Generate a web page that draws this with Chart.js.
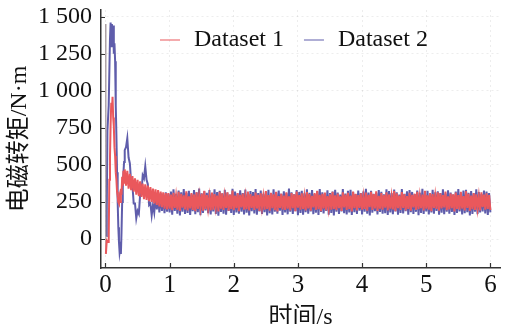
<!DOCTYPE html>
<html>
<head>
<meta charset="utf-8">
<script src="https://cdn.jsdelivr.net/npm/chart.js@4"></script>
<style>
  html, body { margin: 0; padding: 0; background: #fff; }
  canvas { display: block; }
</style>
</head>
<body>
<canvas id="torque" width="508" height="324"></canvas>
<script>
// start-up part, read point by point
const redEarlyT = [0.003, 0.006, 0.02, 0.04, 0.05, 0.06, 0.07, 0.08, 0.09, 0.10, 0.11, 0.12, 0.13, 0.14, 0.15,
  0.16, 0.17, 0.18, 0.19, 0.20, 0.21, 0.22, 0.23, 0.24, 0.25, 0.26, 0.27, 0.28, 0.29];
const redEarlyV = [1450, -100, -10, -20, 0, 400, 550, 780, 920, 860, 960, 820, 760, 620, 560,
  450, 400, 320, 290, 250, 240, 280, 250, 340, 300, 420, 360, 460, 380];

const blueEarlyT = [0.012, 0.02, 0.03, 0.05, 0.07, 0.08, 0.09, 0.10, 0.11, 0.12, 0.13, 0.14, 0.15,
  0.16, 0.17, 0.18, 0.19, 0.20, 0.21, 0.22, 0.23, 0.24, 0.25, 0.26, 0.27, 0.28, 0.29];
const blueEarlyV = [20, 190, 730, 900, 1350, 1460, 1300, 1450, 1380, 1440, 1250, 1320, 1200,
  900, 700, 450, 250, 80, -20, -90, -60, -100, 50, 250, 350, 450, 520];

// sampled part, one value every bandStep seconds from bandStart to 6 s
const bandStart = 0.30;
const bandStep = 0.02;

const redBand = [
  // 0.30 - 0.98
  470, 360, 460, 340, 440, 330, 425, 320, 410, 300, 400, 290, 390, 285, 375, 270, 370, 265,
  360, 255, 350, 250, 340, 240, 335, 230, 330, 220, 320, 215, 315, 205, 310, 200, 310,
  // 1.00 - 6.00
  205, 300, 195, 312, 210, 290, 198, 318, 190, 305,
  212, 295, 200, 322, 193, 288, 207, 310, 196, 301,
  188, 315, 203, 292, 214, 306, 192, 325, 201, 297,
  209, 286, 194, 313, 199, 303, 216, 294, 187, 319,
  205, 308, 197, 289, 211, 316, 191, 300, 204, 327,
  195, 293, 208, 311, 189, 298, 213, 307, 199, 285,
  202, 320, 193, 304, 210, 291, 196, 314, 206, 299,
  190, 309, 215, 287, 198, 323, 203, 296, 192, 312,
  208, 302, 195, 318, 186, 290, 211, 306, 200, 294,
  197, 315, 205, 288, 193, 310, 209, 301, 189, 321,
  212, 297, 199, 308, 204, 285, 194, 317, 207, 303,
  191, 292, 214, 311, 196, 326, 202, 298, 188, 305,
  206, 314, 193, 290, 210, 302, 198, 319, 203, 295,
  195, 307, 209, 288, 190, 316, 213, 300, 197, 312,
  204, 293, 187, 320, 208, 305, 194, 297, 211, 309,
  199, 286, 203, 313, 192, 299, 215, 318, 196, 304,
  207, 322, 190, 291, 205, 310, 198, 296, 212, 315,
  193, 301, 206, 287, 200, 324, 189, 308, 209, 294,
  197, 317, 211, 303, 194, 290, 204, 312, 191, 299,
  214, 306, 196, 319, 202, 289, 208, 300, 193, 325,
  205, 295, 199, 311, 188, 304, 210, 292, 203, 316,
  192, 309, 207, 297, 213, 321, 195, 288, 200, 307,
  209, 302, 186, 314, 204, 296, 198, 318, 206, 290,
  194, 323, 211, 305, 190, 293, 202, 310, 197, 301,
  208, 287, 193, 316, 215, 300, 199, 308, 204, 296,
  196
];

const blueBand = [
  // 0.30 - 0.98
  600, 620, 680, 550, 510, 380, 360, 240, 240, 140, 190, 170, 300, 310, 430, 410, 490, 400,
  370, 230, 240, 160, 230, 180, 280, 200, 300, 180, 310, 190, 300, 175, 315, 185, 305,
  // 1.00 - 6.00
  180, 320, 165, 335, 190, 305, 172, 328, 160, 315,
  185, 338, 170, 310, 176, 325, 163, 302, 188, 331,
  168, 316, 182, 340, 161, 308, 177, 322, 193, 312,
  174, 330, 166, 304, 186, 336, 170, 318, 158, 326,
  183, 309, 172, 333, 165, 314, 190, 300, 176, 339,
  162, 321, 180, 307, 171, 329, 185, 311, 167, 334,
  178, 303, 160, 324, 189, 317, 173, 337, 164, 310,
  187, 327, 169, 306, 181, 319, 159, 332, 175, 301,
  166, 336, 184, 313, 172, 328, 191, 305, 163, 323,
  179, 309, 167, 340, 185, 315, 170, 302, 188, 330,
  161, 318, 176, 326, 164, 308, 182, 335, 171, 312,
  186, 331, 168, 304, 178, 322, 162, 338, 183, 316,
  173, 306, 190, 329, 165, 311, 177, 320, 160, 333,
  184, 314, 170, 301, 187, 337, 174, 307, 166, 325,
  179, 332, 163, 317, 181, 303, 169, 328, 192, 310,
  167, 321, 185, 339, 172, 313, 160, 326, 178, 305,
  188, 308, 166, 330, 183, 319, 171, 302, 175, 336,
  162, 324, 180, 311, 168, 334, 186, 315, 164, 300,
  177, 337, 173, 306, 189, 323, 165, 331, 182, 318,
  170, 304, 184, 327, 161, 312, 176, 339, 169, 309,
  186, 325, 167, 303, 180, 333, 172, 316, 190, 322,
  164, 310, 178, 336, 168, 307, 185, 329, 171, 314,
  183, 301, 163, 320, 176, 338, 187, 305, 166, 327,
  174, 332, 181, 312, 159, 324, 170, 309, 184, 335,
  168, 317, 179, 303, 186, 328, 173, 321, 162, 311,
  180
];

const seriesNames = ['Dataset 1', 'Dataset 2'];
const xTickValues = [0, 1, 2, 3, 4, 5, 6];
const yTickValues = [0, 250, 500, 750, 1000, 1250, 1500];
const xTitle = '时间/s';
const yTitle = '电磁转矩/N·m';

const red = 'rgb(234, 88, 92)';
const blue = 'rgba(86, 84, 166, 0.95)';
const spikeGrey = 'rgba(150, 138, 142, 0.85)';
const serif = '"Liberation Serif", "Noto Sans CJK SC", serif';

const toPoints = (ts, vs) => ts.map((t, i) => ({ x: t, y: vs[i] }));
const bandPoints = vs => vs.map((v, i) => ({ x: +(bandStart + i * bandStep).toFixed(2), y: v }));

const redData = toPoints(redEarlyT, redEarlyV).concat(bandPoints(redBand));
const blueData = toPoints(blueEarlyT, blueEarlyV).concat(bandPoints(blueBand));

const fixTicks = list => scale => { scale.ticks = list.map(v => ({ value: v })); };

// small inward tick marks on both axes
const innerTicks = {
  id: 'innerTicks',
  afterDatasetsDraw(chart) {
    const { ctx, chartArea, scales: { x, y } } = chart;
    ctx.save();
    ctx.strokeStyle = '#333';
    ctx.lineWidth = 1.2;
    ctx.beginPath();
    x.ticks.forEach(t => {
      const px = Math.round(x.getPixelForValue(t.value)) + 0.5;
      if (px <= chartArea.left + 2) return;
      ctx.moveTo(px, chartArea.bottom);
      ctx.lineTo(px, chartArea.bottom - 5);
    });
    y.ticks.forEach(t => {
      const py = Math.round(y.getPixelForValue(t.value)) + 0.5;
      ctx.moveTo(chartArea.left, py);
      ctx.lineTo(chartArea.left + 4, py);
    });
    ctx.stroke();
    ctx.restore();
  }
};

// legend drawn inside the plot, near the top
const innerLegend = {
  id: 'innerLegend',
  afterDraw(chart) {
    const { ctx, chartArea } = chart;
    ctx.save();
    ctx.font = '24px ' + serif;
    ctx.textBaseline = 'middle';
    let cx = 160;
    const cy = chartArea.top + 30;
    chart.data.datasets.forEach(ds => {
      ctx.globalAlpha = 0.5;
      ctx.strokeStyle = ds.borderColor;
      ctx.lineWidth = 2;
      ctx.beginPath();
      ctx.moveTo(cx, cy);
      ctx.lineTo(cx + 20, cy);
      ctx.stroke();
      ctx.globalAlpha = 1;
      ctx.fillStyle = '#111';
      ctx.fillText(ds.label, cx + 34, cy);
      cx += 34 + ctx.measureText(ds.label).width + 20;
    });
    ctx.restore();
  }
};

new Chart(document.getElementById('torque').getContext('2d'), {
  type: 'line',
  data: {
    datasets: [
      {
        label: seriesNames[0], data: redData, borderColor: red, borderWidth: 2,
        segment: { borderColor: c => c.p0DataIndex === 0 ? spikeGrey : undefined, borderWidth: c => c.p0DataIndex === 0 ? 1.2 : undefined }
      },
      { label: seriesNames[1], data: blueData, borderColor: blue, borderWidth: 2 }
    ]
  },
  options: {
    responsive: false,
    animation: false,
    parsing: false,
    normalized: true,
    elements: {
      point: { radius: 0 },
      line: { tension: 0, fill: false }
    },
    layout: {
      padding: { top: 10, right: 8, left: 6, bottom: 0 }
    },
    scales: {
      x: {
        type: 'linear',
        min: -0.07,
        max: 6.15,
        afterBuildTicks: fixTicks(xTickValues),
        afterFit: s => { s.height = 56; s.paddingLeft = 0; s.paddingRight = 0; },
        grid: { color: 'rgba(0, 0, 0, 0.07)', drawTicks: false },
        border: { color: '#333', width: 1.5, dash: [2, 3] },
        ticks: {
          padding: 2,
          color: '#111',
          font: { family: serif, size: 25 }
        },
        title: {
          display: true,
          text: xTitle,
          color: '#111',
          padding: { top: 0, bottom: -6 },
          font: { family: serif, size: 24, lineHeight: 1 }
        }
      },
      y: {
        min: -195,
        max: 1545,
        afterBuildTicks: fixTicks(yTickValues),
        afterFit: s => { s.width = 95; s.paddingTop = 0; s.paddingBottom = 0; },
        grid: { color: 'rgba(0, 0, 0, 0.07)', drawTicks: false },
        border: { color: '#333', width: 1.5, dash: [2, 3] },
        ticks: {
          padding: 9,
          color: '#111',
          font: { family: serif, size: 24 },
          callback: v => v >= 1000 ? String(v).replace(/(\d)(\d{3})$/, '$1 $2') : v
        },
        title: {
          display: true,
          text: yTitle,
          color: '#111',
          padding: { top: 2, bottom: 0 },
          font: { family: serif, size: 24, lineHeight: 1 }
        }
      }
    },
    plugins: {
      legend: { display: false },
      tooltip: { enabled: false }
    }
  },
  plugins: [innerTicks, innerLegend]
});
</script>
</body>
</html>
